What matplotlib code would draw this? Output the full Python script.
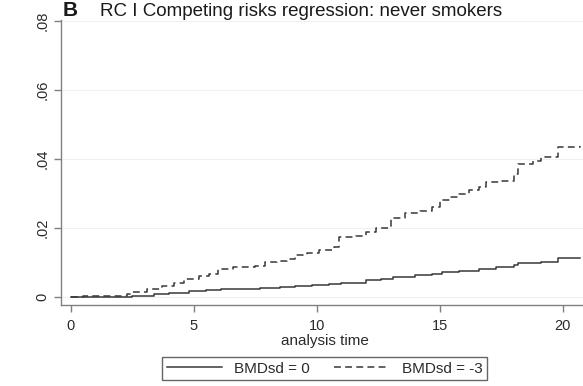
import matplotlib
matplotlib.use("Agg")
import matplotlib.pyplot as plt

plt.rcParams['font.family'] = ['Liberation Sans', 'DejaVu Sans']

# cumulative incidence, BMDsd = 0 (step times / values)
t_bmd0 = [0, 1, 2.5, 3.4, 4, 4.8, 5.5, 6.1, 7, 7.7, 8.5, 9.1, 9.8, 10.5, 11, 12,
          12.6, 13.1, 14, 14.7, 15.1, 15.8, 16.6, 17.3, 18.0, 18.2, 18.6, 19.1, 19.8, 20.7]
cif_bmd0 = [0, 0.0001, 0.0003, 0.0008, 0.0012, 0.0018, 0.0020, 0.0022, 0.0024, 0.0026,
            0.0028, 0.0031, 0.0034, 0.0038, 0.0042, 0.0049, 0.0053, 0.0058, 0.0063, 0.0067,
            0.0072, 0.0076, 0.0082, 0.0086, 0.0093, 0.0098, 0.0099, 0.0102, 0.0112, 0.0112]

# cumulative incidence, BMDsd = -3
t_bmd3 = [0, 0.5, 2.3, 2.5, 3.1, 3.7, 4.2, 4.6, 5.2, 5.6, 6.0, 6.6, 7.5, 7.9, 8.4, 8.8,
          9.1, 9.6, 10.1, 10.7, 10.9, 11.6, 12.0, 12.4, 13.0, 13.6, 14.2, 14.7, 15.0, 15.4,
          15.8, 16.2, 16.6, 16.9, 17.4, 18.0, 18.2, 18.8, 19.1, 19.8, 20.7]
cif_bmd3 = [0, 0.0004, 0.0008, 0.0015, 0.0022, 0.0032, 0.0040, 0.0051, 0.0061, 0.0068,
            0.0080, 0.0088, 0.0091, 0.0102, 0.0105, 0.0109, 0.0122, 0.0128, 0.0136, 0.0146,
            0.0173, 0.0177, 0.0190, 0.0199, 0.0228, 0.0244, 0.0250, 0.0260, 0.0281, 0.0290,
            0.0300, 0.0310, 0.0320, 0.0334, 0.0336, 0.0358, 0.0387, 0.0395, 0.0407, 0.0436, 0.0437]

yticks = [0, 0.02, 0.04, 0.06, 0.08]
ytick_labels = ['0', '.02', '.04', '.06', '.08']
xticks = [0, 5, 10, 15, 20]
legend_labels = ['BMDsd = 0', 'BMDsd = -3']

line_col = '#383838'
axis_col = '#808080'
text_col = '#2b2b2b'

fig = plt.figure(figsize=(5.83, 3.86), dpi=100)
ax = fig.add_axes([0.1041, 0.2098, 0.908, 0.738])

ax.step(t_bmd0, cif_bmd0, where='post', color=line_col, lw=1.1, label=legend_labels[0])
ax.step(t_bmd3, cif_bmd3, where='post', color=line_col, lw=1.1,
        linestyle=(0, (4.5, 2.8)), label=legend_labels[1])

ax.set_xlim(-0.41, 21.11)
ax.set_ylim(-0.00232, 0.0803)
ax.set_xticks(xticks)
ax.set_yticks(yticks)
ax.set_yticklabels(ytick_labels, rotation=90, va='center')
for y in yticks:
    ax.axhline(y, color='#f0f0f0', lw=0.8, zorder=0)

for s in ['top', 'right']:
    ax.spines[s].set_visible(False)
for s in ['left', 'bottom']:
    ax.spines[s].set_color(axis_col)
    ax.spines[s].set_linewidth(1.0)
ax.tick_params(axis='both', colors=axis_col, length=5, width=1.0, labelcolor=text_col,
               labelsize=10.5, pad=5)
ax.tick_params(axis='y', pad=3)

ax.set_xlabel('analysis time', fontsize=11, color=text_col, labelpad=1)

# panel title (sits right at the top edge, as in the source figure)
fig.text(0.108, 0.958, 'B', fontsize=15, fontweight='bold', color='#1a1a1a', va='baseline')
fig.text(0.172, 0.958, 'RC I Competing risks regression: never smokers', fontsize=13.5,
         color='#1a1a1a', va='baseline')

leg = ax.legend(loc='upper center', bbox_to_anchor=(0.557, 0.075),
                bbox_transform=fig.transFigure, ncol=2, frameon=True, fancybox=False,
                fontsize=11, handlelength=3.6, handletextpad=0.8, columnspacing=1.6,
                borderpad=0.3, borderaxespad=0, labelcolor=text_col)
leg.get_frame().set_edgecolor('#404040')
leg.get_frame().set_linewidth(1.0)

fig.savefig('out.png', dpi=100, facecolor='white')
